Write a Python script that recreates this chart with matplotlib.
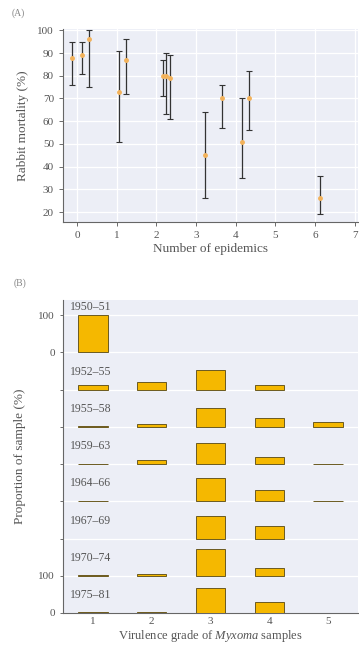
import matplotlib
matplotlib.use("Agg")
import matplotlib.pyplot as plt
import numpy as np

# ---- Panel A data ----
epi_x = [-0.12, 0.12, 0.3, 1.05, 1.23, 2.17, 2.25, 2.35, 3.22, 3.65, 4.15, 4.33, 6.12]
mort_mean = [88, 89, 96, 73, 87, 80, 80, 79, 45, 70, 51, 70, 26]
mort_low = [76, 81, 75, 51, 72, 71, 63, 61, 26, 57, 35, 56, 19]
mort_high = [95, 95, 100, 91, 96, 87, 90, 89, 64, 76, 70, 82, 36]

# ---- Panel B data ----
periods = ["1950–51", "1952–55", "1955–58", "1959–63", "1964–66", "1967–69", "1970–74", "1975–81"]
grades = [1, 2, 3, 4, 5]
proportions = [
    [100, 0, 0, 0, 0],
    [12, 21, 52, 12, 0],
    [1.5, 7, 52, 23, 13],
    [1.5, 12, 58, 19, 1.5],
    [1.5, 0, 62, 30, 1.5],
    [0, 0, 60, 34, 0],
    [1.5, 5, 72, 20, 0],
    [1.5, 4, 66, 29, 0],
]

bg = "#eceef6"
txt = "#555555"
gold = "#f5b800"
edge = "#6b5a20"

plt.rcParams["font.family"] = ["Liberation Serif", "DejaVu Serif"]
plt.rcParams["font.size"] = 8
plt.rcParams["mathtext.fontset"] = "custom"
plt.rcParams["mathtext.rm"] = "Liberation Serif"
plt.rcParams["mathtext.it"] = "Liberation Serif:italic"

fig = plt.figure(figsize=(3.59, 6.48), dpi=100)

# Panel A
axA = fig.add_axes([63/359, (648-222)/648, (358-63)/359, 193/648])
axA.set_facecolor(bg)
yerr = [np.array(mort_mean) - np.array(mort_low), np.array(mort_high) - np.array(mort_mean)]
axA.errorbar(epi_x, mort_mean, yerr=yerr, fmt="o", ms=2.5, mfc="#f3b25a", mec="#f3b25a",
             ecolor="#333333", elinewidth=0.9, capsize=2, capthick=0.8, zorder=3)
axA.set_xlim(-0.35, 7.08)
axA.set_ylim(15.6, 100.6)
axA.set_xticks(range(0, 8))
axA.set_yticks(range(20, 101, 10))
axA.grid(True, color="white", lw=0.9)
axA.set_axisbelow(True)
for s in ["top", "right"]:
    axA.spines[s].set_visible(False)
for s in ["left", "bottom"]:
    axA.spines[s].set_color("#666666")
    axA.spines[s].set_linewidth(0.8)
axA.tick_params(colors=txt, labelsize=8, length=3, width=0.6)
axA.set_xlabel("Number of epidemics", color=txt, fontsize=9.5, labelpad=2)
axA.set_ylabel("Rabbit mortality (%)", color=txt, fontsize=9.5, labelpad=6)
fig.text(12/359, 1-13/648, "(A)", color="#888888", fontsize=7, va="center")

# Panel B
axB = fig.add_axes([63/359, (648-613)/648, (358-63)/359, 313/648])
axB.set_facecolor(bg)
n = len(periods)
for i, (per, vals) in enumerate(zip(periods, proportions)):
    base = (n - 1 - i) * 100
    mask = [v > 0 for v in vals]
    gx = [g for g, m in zip(grades, mask) if m]
    gh = [h for h, m in zip(vals, mask) if m]
    axB.bar(gx, gh, bottom=base, width=0.5, color=gold, edgecolor=edge, linewidth=0.7, zorder=3)
    ty = base + (122 if i == 0 else 48)
    axB.text(0.6, ty, per, color=txt, fontsize=8.5, va="center", ha="left", zorder=4)
axB.set_xlim(0.49, 5.51)
axB.set_ylim(0, 841)
axB.set_xticks(grades)
yt = list(range(0, 801, 100))
axB.set_yticks(yt)
axB.set_yticklabels(["0", "100", "", "", "", "", "", "0", "100"])
axB.grid(True, axis="y", color="white", lw=0.9)
axB.set_axisbelow(True)
for s in ["top", "right"]:
    axB.spines[s].set_visible(False)
for s in ["left", "bottom"]:
    axB.spines[s].set_color("#666666")
    axB.spines[s].set_linewidth(0.8)
axB.tick_params(colors=txt, labelsize=8, length=2.5, width=0.6)
axB.tick_params(axis="x", length=0, pad=3)
axB.set_xlabel("Virulence grade of $\\it{Myxoma}$ samples", color=txt, fontsize=9, labelpad=1)
axB.set_ylabel("Proportion of sample (%)", color=txt, fontsize=9.5, labelpad=9)
fig.text(14/359, 1-283/648, "(B)", color="#888888", fontsize=7, va="center")

fig.savefig("out.png", dpi=100)
